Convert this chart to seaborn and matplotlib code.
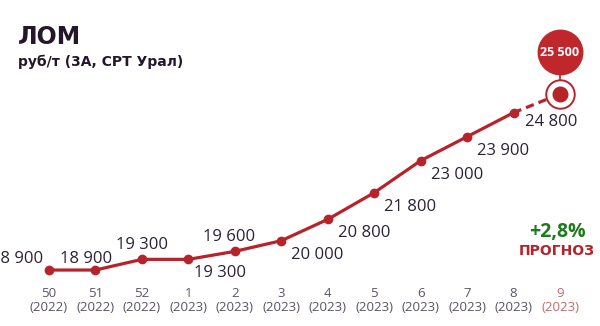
import matplotlib
matplotlib.use("Agg")
import matplotlib.pyplot as plt
import seaborn as sns
import pandas as pd

sns.set_theme(style="white")
plt.rcParams["font.family"] = ["Open Sans", "DejaVu Sans"]

# Weekly scrap prices, rub/t (3A, CPT Ural)
weeks = ["50", "51", "52", "1", "2", "3", "4", "5", "6", "7", "8", "9"]
years = ["2022", "2022", "2022", "2023", "2023", "2023", "2023", "2023", "2023", "2023", "2023", "2023"]
prices = [18900, 18900, 19300, 19300, 19600, 20000, 20800, 21800, 23000, 23900, 24800, 25500]
forecast_label = "+2,8%"

RED = "#b8222a"
DARK = "#2b2235"
GREY = "#5b5363"

n = len(prices)
df = pd.DataFrame({"idx": range(n), "price": prices})
actual = df.iloc[: n - 1]
fcast = df.iloc[n - 2:]

fig = plt.figure(figsize=(6.0, 3.26), dpi=100)
fig.patch.set_facecolor("white")
ax = fig.add_axes([0, 0.141, 1, 0.859])
ax.set_facecolor("none")

sns.lineplot(data=actual, x="idx", y="price", ax=ax, color=RED, lw=2.3,
             marker="o", markersize=7, markeredgewidth=0, zorder=3)
sns.lineplot(data=fcast, x="idx", y="price", ax=ax, color=RED, lw=2.3,
             linestyle=(0, (2.6, 1.6)), zorder=2)

ax.set_xlim(-1.055, 11.861)
ax.set_ylim(18525, 29025)

# value labels: (dx in points, dy in points, ha)
offsets = [(-4, 8, "right"), (-7, 8, "center"), (0, 10, "center"), (23, -10, "center"),
           (-4, 10, "center"), (26, -10, "center"), (26, -10, "center"), (26, -10, "center"),
           (26, -10, "center"), (26, -10, "center"), (27, -7, "center")]
for i in range(n - 1):
    dx, dy, ha = offsets[i]
    ax.annotate(f"{prices[i]:,}".replace(",", " "), (i, prices[i]),
                xytext=(dx, dy), textcoords="offset points", ha=ha, va="center",
                fontsize=12, color=DARK, zorder=5)

# forecast point: ring plus bubble
i = n - 1
ax.plot(i, prices[i], "o", ms=20.5, mfc="white", mec=RED, mew=1.4, zorder=4)
ax.plot(i, prices[i], "o", ms=10.5, color=RED, zorder=5)
bubble_y = prices[i] + 1570
ax.plot([i, i], [prices[i] + 420, bubble_y], color=RED, lw=1.2, zorder=3)
ax.plot(i, bubble_y, "o", ms=32, color="#c0272d", zorder=6)
ax.text(i, bubble_y, f"{prices[i]:,}".replace(",", " "), ha="center", va="center",
        fontsize=9, fontweight="bold", color="white", zorder=7)

ax.text(10.94, 20325, forecast_label, ha="center", va="center", fontsize=14,
        fontweight="bold", color="#1f7a1f")
ax.text(10.94, 19612, "ПРОГНОЗ", ha="center", va="center", fontsize=10,
        fontweight="bold", color="#b3242a", family=["DejaVu Sans"])

ax.set_xticks(range(n))
ax.set_xticklabels([f"{w}\n({y})" for w, y in zip(weeks, years)], fontsize=9.5,
                   color=GREY, linespacing=1.15)
ax.get_xticklabels()[-1].set_color("#c46a6e")
ax.tick_params(axis="x", length=0, pad=5)
ax.set_yticks([])
ax.set_xlabel("")
ax.set_ylabel("")
for s in ax.spines.values():
    s.set_visible(False)

fig.text(0.03, 0.885, "ЛОМ", fontsize=17, fontweight="bold", color="#24172b",
         va="center", ha="left", family=["DejaVu Sans"])
fig.text(0.03, 0.81, "руб/т (3А, СРТ Урал)", fontsize=10, fontweight="bold",
         color="#24172b", va="center", ha="left", family=["DejaVu Sans"])

fig.savefig("out.png", dpi=100, facecolor="white")
